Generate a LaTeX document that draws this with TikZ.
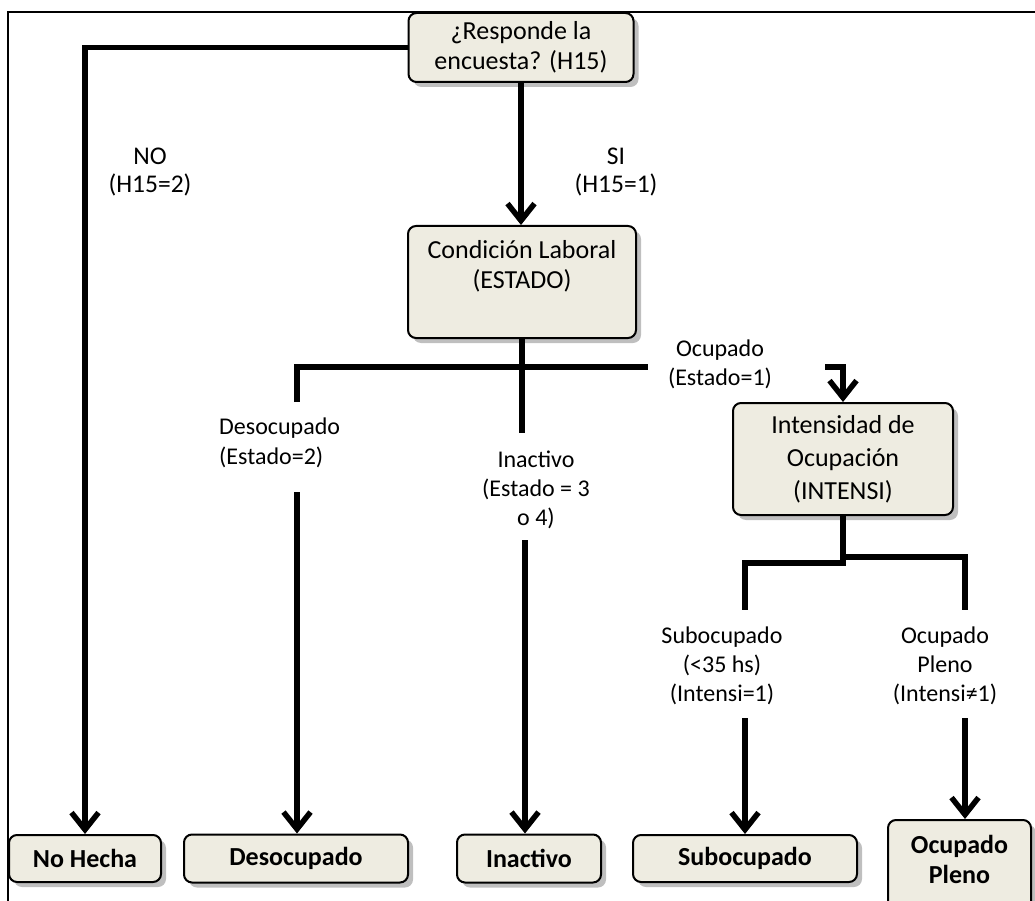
\documentclass[tikz,border=0pt]{standalone}
\usepackage{fontspec}
\setmainfont{Carlito}
\usetikzlibrary{arrows.meta, shadows, positioning}

\definecolor{boxfill}{HTML}{EEECE1}
\tikzset{
  caja/.style={draw, line width=2pt, rounded corners=8pt, fill=boxfill,
    drop shadow={shadow xshift=5pt, shadow yshift=-5pt, fill=black!50},
    align=center, inner sep=4pt, font=\fontsize{26}{30}\selectfont},
  final/.style={caja, font=\fontsize{26}{30}\selectfont\bfseries},
  etiq/.style={align=center, inner sep=0pt, font=\fontsize{24}{29}\selectfont},
  rama/.style={line width=5.5pt},
  flecha/.style={rama, -{Straight Barb[length=17pt, width=27pt]}}
}

\begin{document}
\begin{tikzpicture}[x=1pt, y=-1pt]
\useasboundingbox (0,0) rectangle (1035,901);
\clip (0,0) rectangle (1035,901);
\draw[line width=1.8pt] (8,901) -- (8,12) -- (1035,12);

% cajas
\node[caja, minimum width=225pt, minimum height=69pt] (resp) at (521, 47.5) {¿Responde la\\encuesta? (H15)};
\node[caja, minimum width=228pt, minimum height=112pt, text depth=36pt] (cond) at (522, 282) {Condición Laboral\\(ESTADO)};
\node[caja, minimum width=220pt, minimum height=112pt, font=\fontsize{26}{33}\selectfont] (inten) at (843, 459) {Intensidad de\\Ocupación\\(INTENSI)};
\node[final, minimum width=152pt, minimum height=47pt] (nohecha) at (85, 858.5) {No Hecha};
\node[final, minimum width=224pt, minimum height=48pt] (desoc) at (296, 858.5) {Desocupado};
\node[final, minimum width=144pt, minimum height=48pt] (inact) at (529, 858.5) {Inactivo};
\node[final, minimum width=224pt, minimum height=47pt] (suboc) at (745, 858.5) {Subocupado};
\node[final, minimum width=143pt, anchor=north, inner ysep=15pt, text depth=20pt] (pleno) at (959.5, 819) {Ocupado\\Pleno};

% etiquetas
\node[etiq, font=\fontsize{25.5}{28}\selectfont] (no) at (150, 172) {NO\\(H15=2)};
\node[etiq, font=\fontsize{25.5}{28}\selectfont] (si) at (616, 172) {SI\\(H15=1)};
\node[etiq] (ocup) at (720, 364) {Ocupado\\(Estado=1)};
\node[etiq, align=left, anchor=west, font=\fontsize{24}{30}\selectfont] (desl) at (219, 443) {Desocupado\\(Estado=2)};
\node[etiq] (inal) at (536, 490) {Inactivo\\(Estado = 3\\o 4)};
\node[etiq] (subl) at (722, 666) {Subocupado\\(<35 hs)\\(Intensi=1)};
\node[etiq] (plel) at (945, 666) {Ocupado\\Pleno\\(Intensi≠1)};

% puntos de las ramas
\coordinate (jc) at (522, 367);
\coordinate (dtop) at (297, 367);
\coordinate (dend) at (297, 402);
\coordinate (dini) at (297, 492);
\coordinate (iend) at (522, 433);
\coordinate (iini) at (525, 540);
\coordinate (ocl) at (648, 367);
\coordinate (ocr) at (825, 367);
\coordinate (kl) at (843, 563);
\coordinate (kr) at (843, 557);
\coordinate (send) at (745, 610);
\coordinate (sini) at (745, 718);
\coordinate (pend) at (965, 610);
\coordinate (pini) at (965, 718);

\draw[flecha] (resp.west) -| (nohecha.north);
\draw[flecha] (resp.south) -- (resp.south |- cond.north);
\draw[rama] (cond.south) -- (iend);
\draw[rama] (dend) -- (dtop) -- (ocl);
\draw[flecha] (ocr) -| (inten.north);
\draw[flecha] (dini) -- (dini |- desoc.north);
\draw[flecha] (iini) -- (iini |- inact.north);
\draw[rama] (inten.south) -- (kl) -- (send |- kl) -- (send);
\draw[rama] (kr) -- (pend |- kr) -- (pend);
\draw[flecha] (sini) -- (sini |- suboc.north);
\draw[flecha] (pini) -- (pini |- pleno.north);
\end{tikzpicture}
\end{document}
